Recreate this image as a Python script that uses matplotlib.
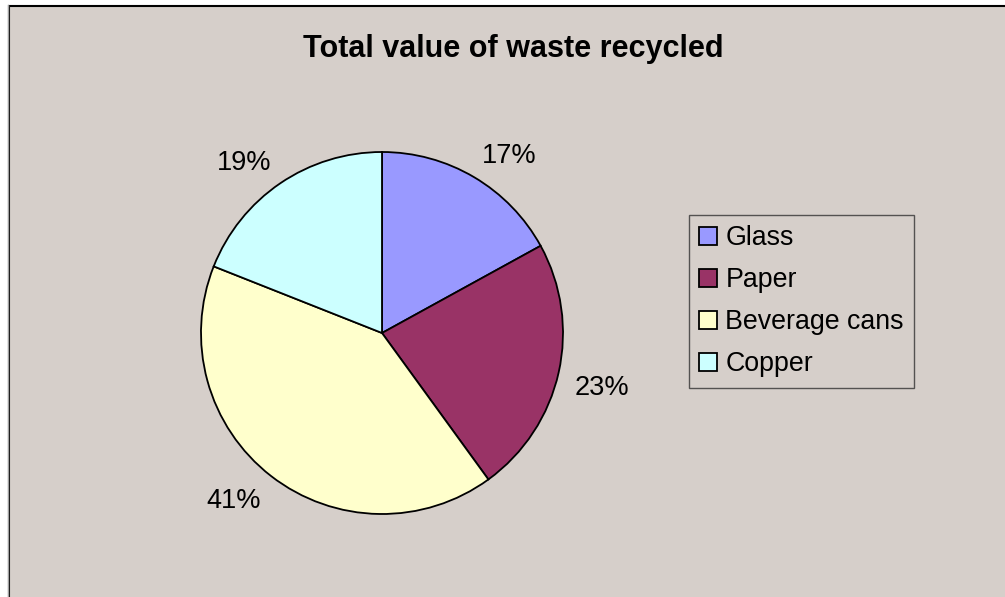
import matplotlib
matplotlib.use("Agg")
import numpy as np
import matplotlib.pyplot as plt
from matplotlib.patches import Rectangle

categories = ["Glass", "Paper", "Beverage cans", "Copper"]
values = [17, 23, 41, 19]
colors = ["#9999FF", "#993366", "#FFFFCC", "#CCFFFF"]
title = "Total value of waste recycled"

W, H = 1005, 597
plt.rcParams['font.family'] = ['Liberation Sans', 'DejaVu Sans']
fig = plt.figure(figsize=(W / 100, H / 100), dpi=100, facecolor="white")

# chart area background with border on left/top
bg = Rectangle((9 / W, -0.1), 1.2, 1.1 - 6 / H, transform=fig.transFigure,
               facecolor="#D6CFCA", edgecolor="black", linewidth=1.5, zorder=-10)
fig.patches.append(bg)
fig.add_artist(plt.Line2D([8 / W, 8 / W], [0, 1 - 5 / H], transform=fig.transFigure,
                          color="#A0A0A0", linewidth=1, zorder=-9))

cx, cy, r = 382, 333, 181
ax = fig.add_axes([(cx - r) / W, (H - cy - r) / H, 2 * r / W, 2 * r / H])
ax.set_zorder(5)
ax.set_facecolor("none")
wedges, _ = ax.pie(
    values, colors=colors, startangle=90, counterclock=False,
    wedgeprops=dict(edgecolor="black", linewidth=1.3))
ax.set_xlim(-1, 1)
ax.set_ylim(-1, 1)
ax.set_aspect("equal")
ax.axis("off")

# Excel-style outside labels: box edge placed just beyond the rim
fs = 19.5
renderer = fig.canvas.get_renderer()
total = sum(values)
gap = 16 / r
cum = 0
for v in values:
    mid = 90 - 360 * (cum + v / 2) / total
    cum += v
    ux, uy = np.cos(np.radians(mid)), np.sin(np.radians(mid))
    pct = f"{round(100 * v / total):.0f}%"
    t = ax.text(0, 0, pct, fontsize=fs, ha="center", va="baseline")
    bb = t.get_window_extent(renderer)
    hw = bb.width / 2 / r
    cap = 0.716 * fs * 100 / 72 / r
    hh = cap / 2
    x = (1 + gap) * ux + hw * np.sign(ux)
    y = (1 + gap) * uy + hh * np.sign(uy)
    t.set_position((x, y - hh))
    t.set_clip_on(False)

fig.text(513 / W, 1 - 57 / H, title, ha="center", va="baseline",
         fontsize=22, fontweight="bold", zorder=6)

leg = fig.legend(wedges, categories, loc="upper left",
                 bbox_to_anchor=(689 / W, 1 - 215 / H),
                 fontsize=19.3, frameon=True, fancybox=False,
                 handlelength=0.68, handleheight=0.68, handletextpad=0.3,
                 borderpad=0.38, labelspacing=0.6, borderaxespad=0)
leg.set_zorder(6)
leg.get_frame().set_edgecolor("#333333")
leg.get_frame().set_facecolor("none")
leg.get_frame().set_linewidth(1.0)
for h in leg.legend_handles:
    h.set_edgecolor("black")
    h.set_linewidth(1.3)

fig.savefig("out.png", dpi=100, facecolor=fig.get_facecolor())
